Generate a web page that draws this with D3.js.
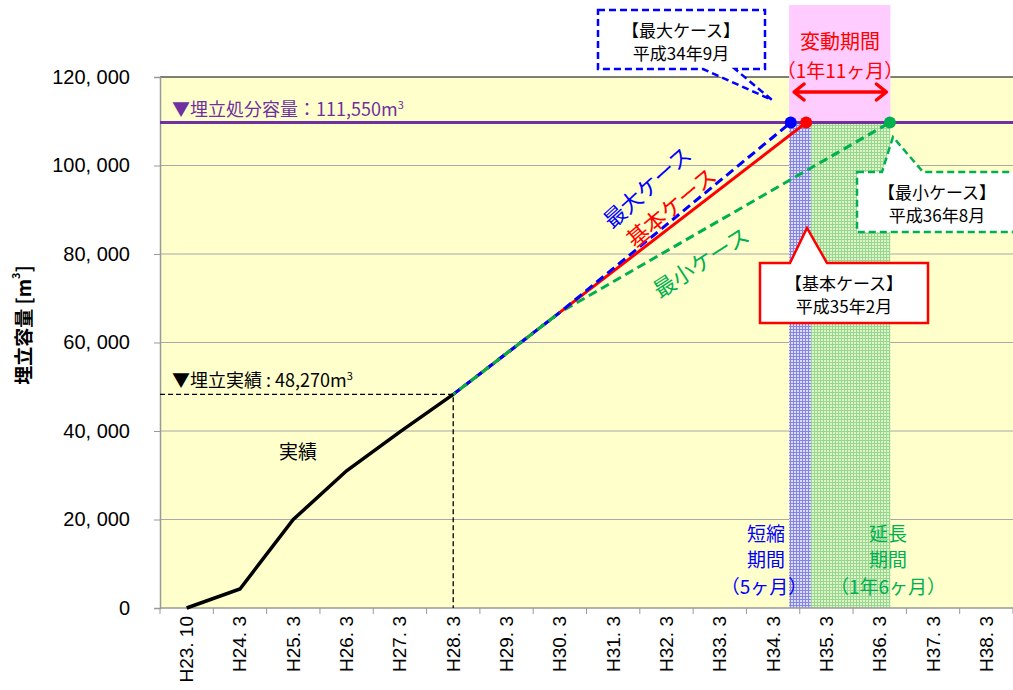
<!DOCTYPE html>
<html>
<head>
<meta charset="utf-8">
<script src="https://cdn.jsdelivr.net/npm/d3@7"></script>
<style>
  body { margin: 0; background: #fff; }
  text { font-family: "Noto Sans CJK JP", "Liberation Sans", sans-serif; }
</style>
</head>
<body>
<svg></svg>
<script>
// categories on the x axis (one band per fiscal year)
var categories = ['H23. 10', 'H24. 3', 'H25. 3', 'H26. 3', 'H27. 3', 'H28. 3', 'H29. 3', 'H30. 3',
    'H31. 3', 'H32. 3', 'H33. 3', 'H34. 3', 'H35. 3', 'H36. 3', 'H37. 3', 'H38. 3'];
var yTicks = [0, 20000, 40000, 60000, 80000, 100000, 120000];

// actual fill volume (band index, m3)
var actualPos = [0, 1, 2, 3, 4, 5];
var actualValues = [0, 4300, 20000, 31000, 39800, 48270];

// forecast cases (fractional band index, m3)
var maxCasePos = [5, 7, 11.33];
var baseCasePos = [5, 7, 11.62];
var minCasePos = [5, 7, 13.19];
var caseValues = [48270, 66800, 109700];

var capacityLevel = 109700;
var actualLevel = 48270;
var shortPeriod = [11.30, 11.71];
var extendPeriod = [11.71, 13.20];

function drawChart() {
    var margin = { top: 77, right: 0, bottom: 82, left: 160 };
    var size = { w: 853, h: 531 };
    var svg = d3.select('svg')
        .attr('width', 1013)
        .attr('height', 690);
    var chart = svg.append('g')
        .attr('transform', 'translate(' + margin.left + ',' + margin.top + ')');

    var x = d3.scaleLinear().domain([-0.5, categories.length - 0.5]).range([0, size.w]);
    var band = d3.scaleBand().domain(categories).range([0, size.w]);
    var y = d3.scaleLinear().domain([0, 120000]).range([size.h, 0]);

    var defs = svg.append('defs');
    function hatch(id, bg, fg) {
        var p = defs.append('pattern').attr('id', id)
            .attr('width', 3).attr('height', 3).attr('patternUnits', 'userSpaceOnUse');
        p.append('rect').attr('width', 3).attr('height', 3).attr('fill', bg);
        p.append('rect').attr('width', 3).attr('height', 1).attr('fill', fg);
        p.append('rect').attr('width', 1).attr('height', 3).attr('fill', fg);
    }
    hatch('blueHatch', '#dcdcf4', '#8585e6');
    hatch('greenHatch', '#e0f4c8', '#96d890');

    // plot background
    chart.append('rect')
        .attr('width', size.w).attr('height', size.h)
        .attr('fill', '#ffffcc');

    // gridlines
    chart.append('g').selectAll('line')
        .data(yTicks.slice(1, -1))
        .enter().append('line')
        .attr('x1', 0).attr('x2', size.w)
        .attr('y1', d => y(d)).attr('y2', d => y(d))
        .attr('stroke', '#a8a8a8').attr('stroke-width', 1);

    // period shading
    chart.append('rect')
        .attr('x', x(shortPeriod[0])).attr('width', x(shortPeriod[1]) - x(shortPeriod[0]))
        .attr('y', y(capacityLevel)).attr('height', size.h - y(capacityLevel))
        .attr('fill', 'url(#blueHatch)');
    chart.append('rect')
        .attr('x', x(extendPeriod[0])).attr('width', x(extendPeriod[1]) - x(extendPeriod[0]))
        .attr('y', y(capacityLevel)).attr('height', size.h - y(capacityLevel))
        .attr('fill', 'url(#greenHatch)');

    // top border
    chart.append('line')
        .attr('x1', 0).attr('x2', size.w).attr('y1', 0).attr('y2', 0)
        .attr('stroke', '#000').attr('stroke-width', 1);

    // variation period box
    chart.append('rect')
        .attr('x', x(shortPeriod[0])).attr('width', x(extendPeriod[1]) - x(shortPeriod[0]))
        .attr('y', -72).attr('height', y(capacityLevel) + 72)
        .attr('fill', '#ffccff');

    // axes
    var yAxis = d3.axisLeft(y).tickValues(yTicks).tickSize(6)
        .tickFormat(d => d3.format(',')(d).replace(',', ', '));
    var gy = chart.append('g').call(yAxis);
    gy.select('.domain').attr('stroke', '#999').attr('stroke-width', 1.5);
    gy.selectAll('.tick line').attr('stroke', '#999');
    gy.selectAll('.tick text')
        .attr('x', -30)
        .style('font-family', '"Liberation Sans", sans-serif')
        .style('font-size', '20px').attr('fill', '#000');

    var gx = chart.append('g').attr('transform', 'translate(0,' + size.h + ')');
    gx.append('line').attr('x1', 0).attr('x2', size.w)
        .attr('stroke', '#999').attr('stroke-width', 1.5);
    gx.selectAll('line.tk')
        .data(d3.range(categories.length + 1))
        .enter().append('line').attr('class', 'tk')
        .attr('x1', d => d * band.step()).attr('x2', d => d * band.step())
        .attr('y1', 0).attr('y2', 6)
        .attr('stroke', '#999');
    gx.selectAll('text')
        .data(categories)
        .enter().append('text')
        .attr('transform', d => 'translate(' + (band(d) + band.bandwidth() / 2) + ',8) rotate(-90)')
        .attr('text-anchor', 'end')
        .attr('dominant-baseline', 'central')
        .style('font-family', '"Liberation Sans", sans-serif')
        .style('font-size', '19px')
        .text(d => d);

    // capacity line
    chart.append('line')
        .attr('x1', 0).attr('x2', size.w)
        .attr('y1', y(capacityLevel)).attr('y2', y(capacityLevel))
        .attr('stroke', '#7030a0').attr('stroke-width', 3);

    // actual-level guide lines
    chart.append('path')
        .attr('d', 'M0,' + y(actualLevel) + 'H' + x(5) + 'V' + size.h)
        .attr('fill', 'none').attr('stroke', '#000').attr('stroke-width', 1.3)
        .attr('stroke-dasharray', '5,3');

    var line = d3.line().x(d => x(d[0])).y(d => y(d[1]));

    // forecast lines
    var cases = [
        { pos: minCasePos, color: '#00b050', dash: '9,5' },
        { pos: baseCasePos, color: '#ff0000', dash: null },
        { pos: maxCasePos, color: '#0000ff', dash: '9,5' }
    ];
    cases.forEach(c => {
        chart.append('path')
            .datum(d3.zip(c.pos, caseValues))
            .attr('d', line)
            .attr('fill', 'none')
            .attr('stroke', c.color).attr('stroke-width', 3)
            .attr('stroke-dasharray', c.dash);
    });
    // green dashes drawn again over the shared segment
    chart.append('path')
        .datum(d3.zip(minCasePos.slice(0, 2), caseValues.slice(0, 2)))
        .attr('d', line)
        .attr('fill', 'none').attr('stroke', '#00b050').attr('stroke-width', 3)
        .attr('stroke-dasharray', '9,5').attr('stroke-dashoffset', 6);
    cases.forEach(c => {
        chart.append('circle')
            .attr('cx', x(c.pos[2])).attr('cy', y(caseValues[2]))
            .attr('r', 6).attr('fill', c.color);
    });

    // actual line
    chart.append('path')
        .datum(d3.zip(actualPos, actualValues))
        .attr('d', line)
        .attr('fill', 'none').attr('stroke', '#000').attr('stroke-width', 3.5);

    // texts inside plot (page coords)
    var page = svg.append('g');
    function label(t, px, py, size, color, anchor) {
        return page.append('text').attr('x', px).attr('y', py)
            .attr('text-anchor', anchor || 'start')
            .style('font-size', size + 'px').attr('fill', color).text(t);
    }
    var cap = label('▼埋立処分容量：', 172, 116, 18, '#7030a0');
    cap.append('tspan').text('111,550m');
    cap.append('tspan').attr('dy', -7).style('font-size', '11px').text('3');
    var act = label('▼埋立実績 : 48,270m', 172, 387, 18, '#000');
    act.append('tspan').attr('dy', -7).style('font-size', '11px').text('3');
    label('実績', 298, 459, 19, '#000', 'middle');

    label('短縮', 766, 541, 19, '#0000ff', 'middle');
    label('期間', 766, 567, 19, '#0000ff', 'middle');
    label('（5ヶ月）', 764, 594, 19, '#0000ff', 'middle');
    label('延長', 888, 541, 19, '#00b050', 'middle');
    label('期間', 888, 567, 19, '#00b050', 'middle');
    label('（1年6ヶ月）', 888, 594, 19, '#00b050', 'middle');

    label('変動期間', 840, 49, 20, '#ff0000', 'middle');
    label('（1年11ヶ月）', 840, 78, 19, '#ff0000', 'middle');

    // double arrow
    var ax0 = margin.left + x(shortPeriod[0]) + 5, ax1 = margin.left + x(extendPeriod[1]) - 4, ay = 92;
    page.append('path')
        .attr('d', 'M' + ax0 + ',' + ay + 'H' + ax1 +
            'M' + (ax0 + 10) + ',' + (ay - 8) + 'L' + ax0 + ',' + ay + 'L' + (ax0 + 10) + ',' + (ay + 8) +
            'M' + (ax1 - 10) + ',' + (ay - 8) + 'L' + ax1 + ',' + ay + 'L' + (ax1 - 10) + ',' + (ay + 8))
        .attr('fill', 'none').attr('stroke', '#ff0000').attr('stroke-width', 3.5)
        .attr('stroke-linecap', 'round').attr('stroke-linejoin', 'round');

    // rotated case labels
    function rlabel(t, px, py, ang, color) {
        page.append('text')
            .attr('transform', 'translate(' + px + ',' + py + ') rotate(' + ang + ')')
            .attr('text-anchor', 'middle').attr('dominant-baseline', 'central')
            .style('font-size', '22px').attr('fill', color).text(t);
    }
    rlabel('最大ケース', 646, 186, -42, '#0000ff');
    rlabel('基本ケース', 670, 206, -40, '#ff0000');
    rlabel('最小ケース', 700, 261, -33, '#00b050');

    // callouts
    function callout(d, color, dash, cx, t1, t2, by) {
        page.append('path').attr('d', d)
            .attr('fill', '#fff').attr('stroke', color).attr('stroke-width', 2.5)
            .attr('stroke-dasharray', dash);
        label(t1, cx, by, 17, '#000', 'middle');
        label(t2, cx, by + 23, 17, '#000', 'middle');
    }
    callout('M598,10H765V69H735L772,100L703,69H598Z', '#0000ff', '7,4', 681, '【最大ケース】', '平成34年9月', 37);
    callout('M857,172H882L893,137L923,172H1030V232H857Z', '#00b050', '7,4', 937, '【最小ケース】', '平成36年8月', 199);
    callout('M760,263H790L807,228L827,263H928V323H760Z', '#ff0000', null, 844, '【基本ケース】', '平成35年2月', 290);

    // y axis title
    var yt = page.append('text')
        .attr('transform', 'translate(22,325) rotate(-90)')
        .attr('text-anchor', 'middle').attr('dominant-baseline', 'central')
        .style('font-size', '19px').style('font-weight', 'bold').attr('fill', '#000')
        .text('埋立容量 [m');
    yt.append('tspan').attr('dy', -7).style('font-size', '11px').text('3');
    yt.append('tspan').attr('dy', 7).text(']');
}

drawChart();
</script>
</body>
</html>
